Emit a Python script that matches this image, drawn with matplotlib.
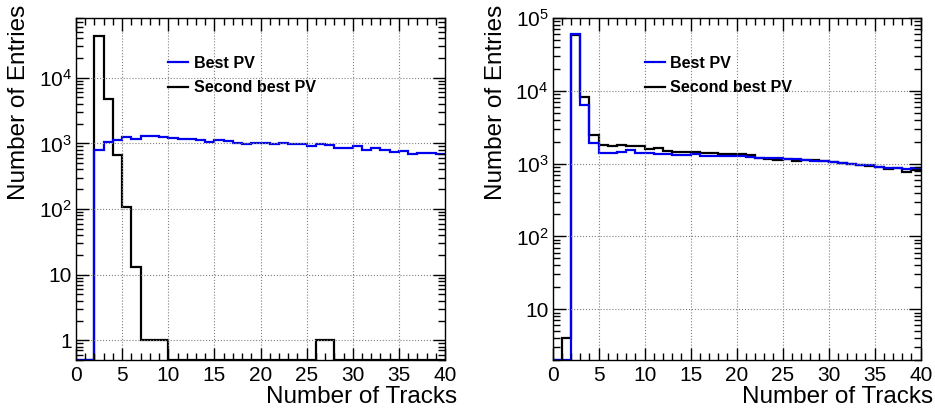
import numpy as np
import matplotlib
matplotlib.use('Agg')
import matplotlib.pyplot as plt
from matplotlib.ticker import MultipleLocator, LogLocator, FuncFormatter, NullFormatter

plt.rcParams['font.family'] = ['Liberation Sans', 'DejaVu Sans']

edges = np.arange(0, 41)

# left: number of tracks, best vs second best PV
left_best = [0, 0, 782, 1035, 1135, 1247, 1175, 1305, 1305, 1260,
             1190, 1150, 1150, 1110, 1035, 1120, 1085, 1020, 975, 1000,
             1020, 975, 1000, 975, 975, 918, 975, 952, 847, 847,
             918, 797, 847, 797, 736, 763, 687, 703, 703, 687]
left_second = [0, 0, 43000, 4700, 660, 107, 13.2, 1, 1, 1,
               0, 0, 0, 0, 0, 0, 0, 0, 0, 0,
               0, 0, 0, 0, 0, 0, 1, 1, 0, 0,
               0, 0, 0, 0, 0, 0, 0, 0, 0, 0]

# right
right_best = [0, 0, 60000, 6300, 1910, 1420, 1420, 1450, 1530, 1420,
              1390, 1375, 1345, 1330, 1320, 1375, 1290, 1290, 1290, 1290,
              1262, 1223, 1197, 1197, 1197, 1150, 1150, 1125, 1088, 1077,
              1043, 1020, 990, 968, 948, 908, 880, 870, 835, 875]
right_second = [0, 4.0, 59000, 8300, 2500, 1830, 1740, 1790, 1740, 1770,
                1600, 1630, 1510, 1465, 1465, 1435, 1420, 1390, 1375, 1360,
                1375, 1320, 1200, 1172, 1135, 1150, 1100, 1125, 1110, 1077,
                1043, 1010, 980, 958, 918, 908, 853, 870, 767, 810]

labels = ['Best PV', 'Second best PV']


def log_label(v, pos):
    if v == 1:
        return '1'
    if v == 10:
        return '10'
    return r'$\mathregular{10^{%d}}$' % int(round(np.log10(v)))


def draw(ax, best, second, ylim):
    lo = ylim[0]
    # zero bins sit on the bottom of the frame like in ROOT
    ax.stairs(np.clip(second, lo, None), edges, baseline=None, color='black', lw=1.6)
    ax.stairs(np.clip(best, lo, None), edges, baseline=None, color='#0000ee', lw=1.6)
    ax.set_yscale('log')
    ax.set_xlim(0, 40)
    ax.set_ylim(*ylim)
    ax.xaxis.set_major_locator(MultipleLocator(5))
    ax.xaxis.set_minor_locator(MultipleLocator(1))
    ax.yaxis.set_major_locator(LogLocator(base=10))
    ax.yaxis.set_minor_locator(LogLocator(base=10, subs=np.arange(2, 10)))
    ax.yaxis.set_major_formatter(FuncFormatter(log_label))
    ax.yaxis.set_minor_formatter(NullFormatter())
    ax.tick_params(which='both', direction='in', top=True, right=True, labelsize=15, width=1)
    ax.tick_params(which='major', length=9)
    ax.tick_params(which='minor', length=5)
    ax.tick_params(axis='y', pad=3)
    ax.tick_params(axis='x', pad=4)
    ax.grid(True, which='major', ls=':', color='gray', lw=0.8)
    for s in ax.spines.values():
        s.set_linewidth(1)
    ax.set_xlabel('Number of Tracks', fontsize=17.5, loc='right')
    ax.set_ylabel('Number of Entries', fontsize=17.5, loc='top')
    ax.xaxis.set_label_coords(1.033, -0.076)
    ax.yaxis.set_label_coords(-0.124, 1.04)
    lines = [plt.Line2D([], [], color='#0000ee', lw=1.6), plt.Line2D([], [], color='black', lw=1.6)]
    ax.legend(lines, labels, loc='upper left', bbox_to_anchor=(0.25, 0.89), frameon=False,
              prop={'weight': 'bold', 'size': 11.6}, handlelength=1.25, handletextpad=0.35,
              labelspacing=0.6, borderpad=0, borderaxespad=0)


fig = plt.figure(figsize=(9.35, 4.11), dpi=100)
ax1 = fig.add_axes([0.0813, 0.124, 0.3947, 0.832])
ax2 = fig.add_axes([0.5911, 0.124, 0.3936, 0.832])
draw(ax1, left_best, left_second, (0.5, 8.1e4))
draw(ax2, right_best, right_second, (2, 1e5))

fig.savefig('out.png', dpi=100)
